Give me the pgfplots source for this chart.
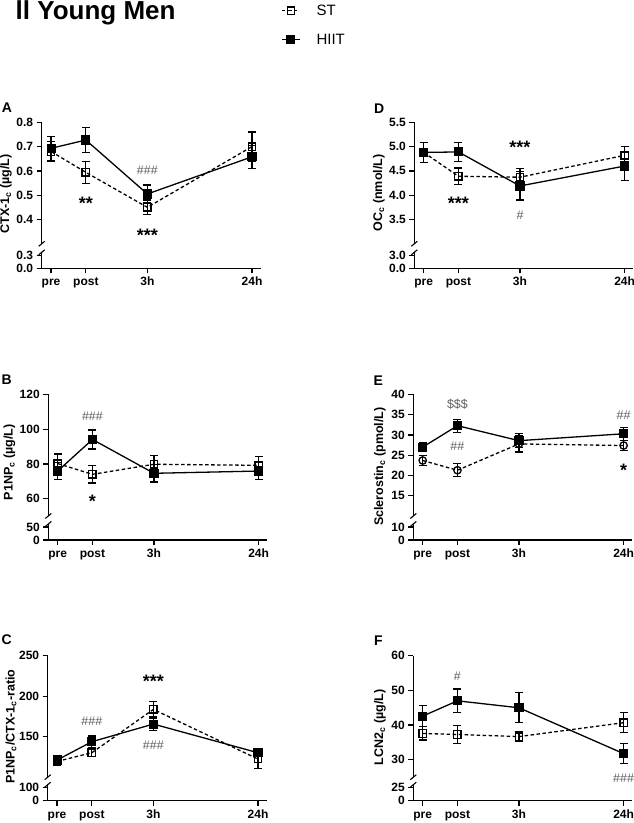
\documentclass[border=0pt]{standalone}
\usepackage{fontspec}
\setmainfont{Liberation Sans}
\usepackage{pgfplots}
\pgfplotsset{compat=1.18}
\definecolor{anno}{HTML}{5E5E5E}

\pgfplotsset{
  panel/.style={scale only axis, width=219pt, xmin=-0.27, xmax=6.03, clip=false,
    axis line style={-, line width=1.5pt, black},
    tick align=outside, major tick length=5pt,
    tick style={line width=1.3pt, black},
    tick label style={font=\bfseries\fontsize{12}{13}\selectfont},
  },
  upper/.style={panel, height=121.5pt, hide x axis, axis y line*=left},
  lower/.style={panel, height=16pt, ymin=0, axis x line*=bottom, axis y line*=left,
    xtick={0,1,2.77,5.78}, xticklabels={pre,post,3h,24h},
    xticklabel style={text height=9pt, text depth=2.5pt}},
  ebars/.style={error bars/y dir=both, error bars/y explicit,
    error bars/error bar style={solid, line width=1.2pt, black},
    error bars/error mark options={rotate=90, solid, line width=1.2pt, mark size=4pt, black}},
  st/.style={ebars, black, line width=1.3pt, dash pattern=on 3.5pt off 2.5pt,
    mark=square, mark size=3.7pt, mark options={solid, line width=1.3pt}},
  hiit/.style={ebars, black, line width=1.3pt, solid,
    mark=square*, mark size=3.9pt, mark options={solid}},
}
\newcommand{\brkbottom}{\draw[line width=1.1pt] (rel axis cs:0,0) ++(-3pt,-2.5pt) -- ++(6pt,5pt);}
\newcommand{\brktop}{\draw[line width=1.1pt] (rel axis cs:0,1) ++(-3pt,-2.5pt) -- ++(6pt,5pt);}
\tikzset{
  star/.style={font=\bfseries\fontsize{18}{18}\selectfont, yshift=-4pt},
  hash/.style={text=anno, font=\fontsize{12.5}{12.5}\selectfont},
  plabel/.style={font=\bfseries\fontsize{14}{14}\selectfont},
  ylab/.style={rotate=90, font=\bfseries\fontsize{12.5}{13}\selectfont},
}

\begin{document}
\begin{tikzpicture}
\useasboundingbox (0pt,0pt) rectangle (634pt,823pt);

\node[anchor=base west, inner sep=0pt, font=\bfseries\fontsize{26}{26}\selectfont] at (15.5pt,803pt) {ll Young Men};

% ---------- A ----------
\begin{axis}[upper, at={(41.7pt,579.2pt)}, ymin=0.3, ymax=0.8,
  ytick={0.4,0.5,0.6,0.7,0.8}, yticklabels={0.4,0.5,0.6,0.7,0.8},
  legend style={at={(1.093,1.985)}, anchor=north west, draw=none, fill=none, inner sep=0pt,
    font=\fontsize{15}{17}\selectfont, row sep=13pt,
    /tikz/every odd column/.append style={column sep=14pt}},
  legend cell align=left,
  legend image code/.code={\draw[mark repeat=2, mark phase=2, #1] plot coordinates {(0pt,0pt) (9pt,0pt) (18pt,0pt)};}]
\addplot[st] coordinates {(0,0.68) +- (0,0.04) (1,0.594) +- (0,0.045) (2.77,0.45) +- (0,0.03) (5.78,0.70) +- (0,0.06)};
\addlegendentry{ST}
\addplot[hiit] coordinates {(0,0.693) +- (0,0.05) (1,0.727) +- (0,0.05) (2.77,0.505) +- (0,0.037) (5.78,0.658) +- (0,0.048)};
\addlegendentry{HIIT}
\node[star] at (axis cs:1,0.484) {**};
\node[hash] at (axis cs:2.77,0.604) {\#\#\#};
\node[star] at (axis cs:2.77,0.353) {***};
\brkbottom
\end{axis}
\begin{axis}[lower, at={(41.7pt,554.7pt)}, ymax=0.369, ytick={0,0.3}, yticklabels={0.0,0.3}]
\brktop
\end{axis}

% ---------- D ----------
\begin{axis}[upper, at={(414.3pt,579.2pt)}, ymin=3.0, ymax=5.5,
  ytick={3.5,4.0,4.5,5.0,5.5}, yticklabels={3.5,4.0,4.5,5.0,5.5}]
\addplot[st] coordinates {(0,4.88) +- (0,0.2) (1,4.39) +- (0,0.17) (2.77,4.37) +- (0,0.18) (5.78,4.82) +- (0,0.19)};
\addplot[hiit] coordinates {(0,4.88) +- (0,0.2) (1,4.89) +- (0,0.2) (2.77,4.19) +- (0,0.29) (5.78,4.60) +- (0,0.29)};
\node[star] at (axis cs:2.77,5.07) {***};
\node[star] at (axis cs:1,3.92) {***};
\node[hash] at (axis cs:2.77,3.59) {\#};
\brkbottom
\end{axis}
\begin{axis}[lower, at={(414.3pt,554.7pt)}, ymax=3.69, ytick={0,3}, yticklabels={0.0,3.0}]
\brktop
\end{axis}

% ---------- B ----------
\begin{axis}[upper, at={(48.3pt,307pt)}, ymin=50, ymax=120,
  ytick={60,80,100,120}, yticklabels={60,80,100,120}]
\addplot[st] coordinates {(0,80.2) +- (0,5.5) (1,74.0) +- (0,5) (2.77,79.8) +- (0,5) (5.78,79.2) +- (0,5.2)};
\addplot[hiit] coordinates {(0,75.9) +- (0,5) (1,94.1) +- (0,5.5) (2.77,74.6) +- (0,5) (5.78,75.9) +- (0,5)};
\node[hash] at (axis cs:1,107.4) {\#\#\#};
\node[star] at (axis cs:1,60.6) {*};
\brkbottom
\end{axis}
\begin{axis}[lower, at={(48.3pt,283pt)}, ymax=61.5, ytick={0,50}, yticklabels={0,50}]
\brktop
\end{axis}

% ---------- E ----------
\begin{axis}[upper, at={(413.3pt,307pt)}, ymin=10, ymax=40,
  ytick={15,20,25,30,35,40}, yticklabels={15,20,25,30,35,40}]
\addplot[st, mark=o] coordinates {(0,23.7) +- (0,1.3) (1,21.3) +- (0,1.6) (2.77,27.8) +- (0,2.0) (5.78,27.4) +- (0,1.3)};
\addplot[hiit] coordinates {(0,27.0) +- (0,1.1) (1,32.3) +- (0,1.6) (2.77,28.6) +- (0,1.7) (5.78,30.3) +- (0,1.6)};
\node[hash] at (axis cs:1,37.5) {\$\$\$};
\node[hash] at (axis cs:1,27.3) {\#\#};
\node[hash] at (axis cs:5.78,35) {\#\#};
\node[star] at (axis cs:5.78,22.3) {*};
\brkbottom
\end{axis}
\begin{axis}[lower, at={(413.3pt,283pt)}, ymax=12.3, ytick={0,10}, yticklabels={0,10}]
\brktop
\end{axis}

% ---------- C ----------
\begin{axis}[upper, at={(47.7pt,45.8pt)}, ymin=100, ymax=250,
  ytick={150,200,250}, yticklabels={150,200,250}]
\addplot[st] coordinates {(0,119.5) +- (0,5) (1,130.2) +- (0,5) (2.77,183.7) +- (0,9.5) (5.78,122.4) +- (0,12)};
\addplot[hiit] coordinates {(0,121.2) +- (0,5) (1,143.8) +- (0,7) (2.77,165.6) +- (0,7.5) (5.78,130.2) +- (0,5)};
\node[star] at (axis cs:2.77,223.3) {***};
\node[hash] at (axis cs:1,168.5) {\#\#\#};
\node[hash] at (axis cs:2.77,139) {\#\#\#};
\brkbottom
\end{axis}
\begin{axis}[lower, at={(47.7pt,22.3pt)}, ymax=123, ytick={0,100}, yticklabels={0,100}]
\brktop
\end{axis}

% ---------- F ----------
\begin{axis}[upper, at={(413.3pt,45.8pt)}, ymin=25, ymax=60,
  ytick={30,40,50,60}, yticklabels={30,40,50,60}]
\addplot[st] coordinates {(0,37.6) +- (0,1.9) (1,37.3) +- (0,2.5) (2.77,36.7) +- (0,1.5) (5.78,40.7) +- (0,2.9)};
\addplot[hiit] coordinates {(0,42.6) +- (0,3) (1,47.0) +- (0,3.4) (2.77,45.0) +- (0,4.3) (5.78,31.8) +- (0,2.9)};
\node[hash] at (axis cs:1,54.2) {\#};
\node[hash] at (axis cs:5.78,24.7) {\#\#\#};
\brkbottom
\end{axis}
\begin{axis}[lower, at={(413.3pt,22.3pt)}, ymax=30.8, ytick={0,25}, yticklabels={0,25}]
\brktop
\end{axis}

% panel letters and axis titles
\node[plabel] at (7pt,715pt) {A};
\node[plabel] at (6.7pt,443pt) {B};
\node[plabel] at (6.7pt,183pt) {C};
\node[plabel] at (379.3pt,714.7pt) {D};
\node[plabel] at (378.3pt,442pt) {E};
\node[plabel] at (378.3pt,182pt) {F};

\node[ylab] at (6pt,629pt) {CTX-1\textsubscript{c} (µg/L)};
\node[ylab] at (9.5pt,360.7pt) {P1NP\textsubscript{c} (µg/L)};
\node[ylab] at (11pt,96.3pt) {P1NP\textsubscript{c}/CTX-1\textsubscript{c}-ratio};
\node[ylab] at (379pt,630pt) {OC\textsubscript{c} (nmol/L)};
\node[ylab] at (380pt,356.3pt) {Sclerostin\textsubscript{c} (pmol/L)};
\node[ylab] at (380pt,95.7pt) {LCN2\textsubscript{c} (µg/L)};
\end{tikzpicture}
\end{document}
